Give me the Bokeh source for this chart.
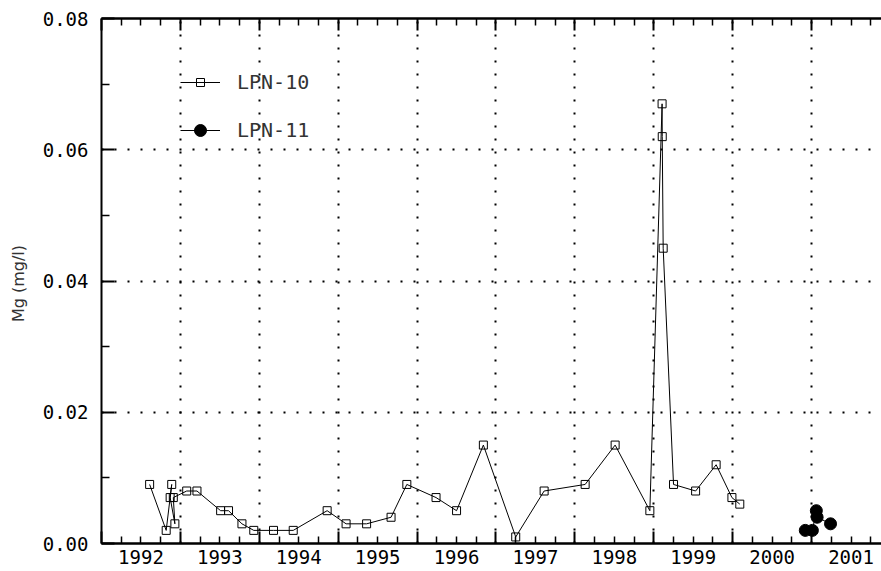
from bokeh.plotting import figure
from bokeh.models import ColumnDataSource, FixedTicker, LinearAxis, Legend, LegendItem, Range1d
from bokeh.embed import file_html
from bokeh.resources import INLINE

# ---- data ----
lpn10_year = [1992.61, 1992.82, 1992.89, 1992.87, 1992.93, 1992.91, 1993.08, 1993.21,
              1993.51, 1993.61, 1993.78, 1993.93, 1994.18, 1994.43, 1994.86, 1995.10,
              1995.36, 1995.67, 1995.87, 1996.24, 1996.50, 1996.84, 1997.25, 1997.61,
              1998.13, 1998.51, 1998.95, 1999.105, 1999.107, 1999.119, 1999.25, 1999.53,
              1999.79, 1999.99, 2000.09]
lpn10_mg = [0.009, 0.002, 0.009, 0.007, 0.003, 0.007, 0.008, 0.008,
            0.005, 0.005, 0.003, 0.002, 0.002, 0.002, 0.005, 0.003,
            0.003, 0.004, 0.009, 0.007, 0.005, 0.015, 0.001, 0.008,
            0.009, 0.015, 0.005, 0.067, 0.062, 0.045, 0.009, 0.008,
            0.012, 0.007, 0.006]

lpn11_year = [2000.92, 2001.01, 2001.06, 2001.07, 2001.24]
lpn11_mg = [0.002, 0.002, 0.005, 0.004, 0.003]

series_names = ["LPN-10", "LPN-11"]
year_labels = ["1992", "1993", "1994", "1995", "1996", "1997", "1998", "1999", "2000", "2001"]
year_starts = [1992, 1993, 1994, 1995, 1996, 1997, 1998, 1999, 2000, 2001, 2002]
y_ticks = [0.0, 0.02, 0.04, 0.06, 0.08]
y_tick_labels = ["0.00", "0.02", "0.04", "0.06", "0.08"]
y_minor = [0.01, 0.03, 0.05, 0.07]
y_axis_title = "Mg  (mg/l)"

# ---- derived tick positions ----
year_mids = [int(s) + 0.5 for s in year_labels]
quarter_ticks = [y + q for y in year_starts[:-1] for q in (0.25, 0.75)]
all_short = sorted(quarter_ticks + year_mids)

MONO = "DejaVu Sans Mono"

p = figure(width=881, height=571, output_backend="svg", toolbar_location=None,
           x_range=Range1d(1992, 2001.886), y_range=Range1d(0, 0.08),
           min_border_left=101, min_border_right=0, min_border_top=18, min_border_bottom=28)
p.outline_line_color = None
p.background_fill_color = "white"
p.border_fill_color = "white"


def base_style(ax):
    ax.axis_line_color = "black"
    ax.axis_line_width = 2
    ax.major_tick_line_color = "black"
    ax.major_tick_line_width = 1.5
    ax.minor_tick_line_color = "black"
    ax.minor_tick_line_width = 1.5
    ax.major_tick_out = 0
    ax.minor_tick_out = 0
    ax.major_label_standoff = 0


# bottom axis (innermost): long ticks at year starts, no labels
xa = p.xaxis[0]
xa.ticker = FixedTicker(ticks=[], minor_ticks=year_starts)
base_style(xa)
xa.minor_tick_line_width = 2
xa.minor_tick_in = 12

# bottom label axis: short ticks at quarters, year labels at mid-year
lab = LinearAxis(ticker=FixedTicker(ticks=year_mids, minor_ticks=quarter_ticks))
base_style(lab)
lab.major_tick_in = 7
lab.minor_tick_in = 7
lab.major_label_standoff = 6
lab.major_label_overrides = {m: t for m, t in zip(year_mids, year_labels)}
lab.major_label_text_font = MONO
lab.major_label_text_font_size = "19px"
lab.major_label_text_color = "black"
p.add_layout(lab, "below")

# top axes: long ticks at year starts and short ticks at quarters, no labels
top_long = LinearAxis(ticker=FixedTicker(ticks=[], minor_ticks=year_starts))
base_style(top_long)
top_long.minor_tick_line_width = 2
top_long.minor_tick_in = 12
p.add_layout(top_long, "above")
top_short = LinearAxis(ticker=FixedTicker(ticks=[], minor_ticks=all_short))
base_style(top_short)
top_short.minor_tick_in = 7
p.add_layout(top_short, "above")

# y axis
ya = p.yaxis[0]
ya.ticker = FixedTicker(ticks=y_ticks, minor_ticks=y_minor)
ya.major_label_overrides = {t: s for t, s in zip(y_ticks, y_tick_labels)}
base_style(ya)
ya.major_tick_line_width = 2
ya.major_tick_in = 13
ya.minor_tick_in = 8
ya.major_label_standoff = 13
ya.major_label_text_font = MONO
ya.major_label_text_font_size = "19px"
ya.major_label_text_color = "black"
ya.axis_label = y_axis_title
ya.axis_label_text_font = "DejaVu Sans"
ya.axis_label_text_font_size = "16px"
ya.axis_label_text_font_style = "normal"
ya.axis_label_text_color = "#333333"
ya.axis_label_standoff = 12

# grids (dotted) at year starts and y major ticks
p.xgrid[0].ticker = FixedTicker(ticks=year_starts)
p.ygrid[0].ticker = FixedTicker(ticks=y_ticks)
for g in (p.xgrid[0], p.ygrid[0]):
    g.grid_line_color = "black"
    g.grid_line_dash = "2 11"
    g.grid_line_width = 2

# data
src10 = ColumnDataSource(dict(x=lpn10_year, y=lpn10_mg))
src11 = ColumnDataSource(dict(x=lpn11_year, y=lpn11_mg))
l10 = p.line("x", "y", source=src10, line_color="black", line_width=1)
s10 = p.scatter("x", "y", source=src10, marker="square", size=8,
                line_color="black", line_width=1, fill_color=None)
l11 = p.line("x", "y", source=src11, line_color="black", line_width=1)
s11 = p.scatter("x", "y", source=src11, marker="circle", size=12,
                line_color="black", fill_color="black")


def make_legend(item, gh, loc):
    return Legend(items=[item], location=loc, glyph_width=40, glyph_height=gh,
                  label_height=gh, padding=0, margin=0, spacing=0,
                  border_line_color=None, background_fill_alpha=0,
                  label_standoff=17, label_text_font=MONO,
                  label_text_font_size="20px", label_text_color="#333333")


p.add_layout(make_legend(LegendItem(label=series_names[0], renderers=[l10, s10]), 20, (79, 449)))
p.add_layout(make_legend(LegendItem(label=series_names[1], renderers=[l11, s11]), 30, (79, 398)))

open("out.html", "w").write(file_html(p, INLINE))
